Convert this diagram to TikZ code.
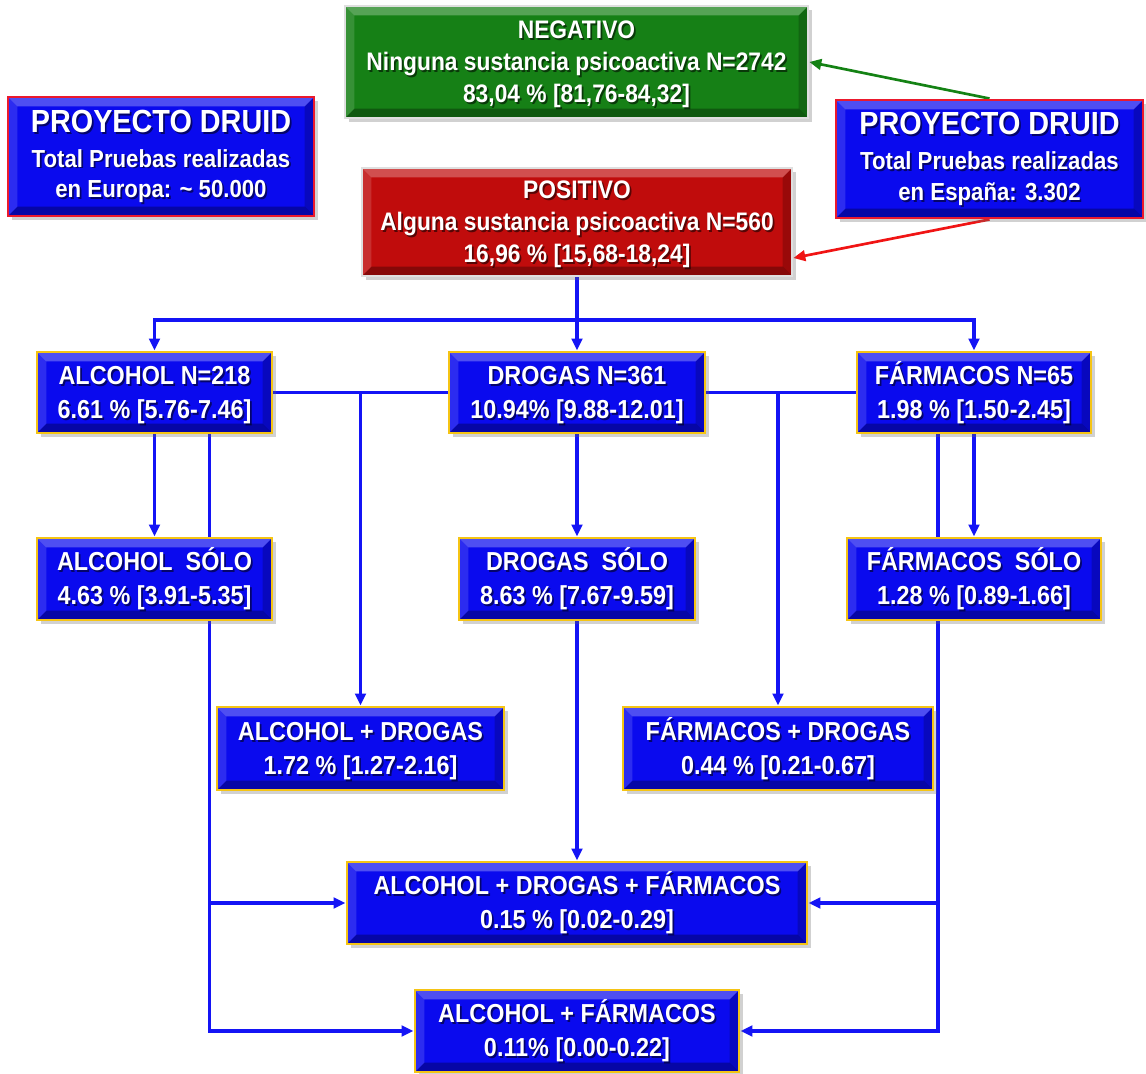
\documentclass[tikz,border=0pt]{standalone}
\usepackage{fontspec}
\setmainfont{Liberation Sans}
\newfontfamily\narrowsans{Liberation Sans}[FakeStretch=0.9]
\usetikzlibrary{arrows.meta,shadows,calc,backgrounds}
\definecolor{bxblue}{RGB}{10,10,238}
\definecolor{bxgold}{RGB}{245,196,20}
\definecolor{bxgreen}{RGB}{22,128,22}
\definecolor{bxred}{RGB}{192,12,12}
\definecolor{druidred}{RGB}{235,25,45}
\definecolor{lnblue}{RGB}{20,20,245}
\definecolor{lngreen}{RGB}{20,130,20}
\definecolor{lnred}{RGB}{240,20,20}
\tikzset{
  bevel/.style={path picture={
    \fill[white,opacity=.28] (path picture bounding box.north west) -- (path picture bounding box.north east)
      -- ([shift={(-7pt,-7pt)}]path picture bounding box.north east) -- ([shift={(7pt,-7pt)}]path picture bounding box.north west) -- cycle;
    \fill[white,opacity=.14] (path picture bounding box.north west) -- (path picture bounding box.south west)
      -- ([shift={(7pt,7pt)}]path picture bounding box.south west) -- ([shift={(7pt,-7pt)}]path picture bounding box.north west) -- cycle;
    \fill[black,opacity=.30] (path picture bounding box.south west) -- (path picture bounding box.south east)
      -- ([shift={(-7pt,7pt)}]path picture bounding box.south east) -- ([shift={(7pt,7pt)}]path picture bounding box.south west) -- cycle;
    \fill[black,opacity=.20] (path picture bounding box.north east) -- (path picture bounding box.south east)
      -- ([shift={(-7pt,7pt)}]path picture bounding box.south east) -- ([shift={(-7pt,-7pt)}]path picture bounding box.north east) -- cycle;
  }},
  baseshape/.style={inner sep=0pt, align=center, bevel, text opacity=0,
    drop shadow={shadow xshift=3pt,shadow yshift=-3pt,opacity=.3,fill=black!60}},
  flowshape/.style={baseshape, draw=bxgold, line width=2.2pt, fill=bxblue},
  druidshape/.style={baseshape, draw=druidred, line width=2.2pt, fill=bxblue},
  resshape/.style={baseshape, draw=gray!25, line width=2pt},
  flowfont/.style={inner sep=0pt, align=center,
    font=\narrowsans\bfseries\fontsize{19.5}{25.5}\selectfont},
  druidfont/.style={inner sep=0pt, align=center,
    font=\narrowsans\bfseries\fontsize{18.5}{23}\selectfont},
  resfont/.style={inner sep=0pt, align=center,
    font=\narrowsans\bfseries\fontsize{19}{24}\selectfont},
  cn/.style={draw=lnblue, line width=2.4pt},
  cna/.style={cn, -{Triangle[length=9pt,width=8pt]}},
}
% name, x1, y1, x2, y2, shape style, font style, text  (pixel coordinates)
\newcommand\placebox[8]{%
  \node[#6, #7, minimum width={(#4-#2)*0.75pt}, minimum height={(#5-#3)*0.75pt}]
    (#1) at ({(#2+#4)/2},{(#3+#5)/2}) {\vphantom{Á}#8};
  \node[#7, text=black, text opacity=.55] (#1-sh) at ([shift={(1.3pt,-1.3pt)}]#1.center) {\vphantom{Á}#8};
  \node[#7, text=white] (#1-tx) at (#1.center) {\vphantom{Á}#8};}
\begin{document}
\begin{tikzpicture}[x=0.75pt,y=-0.75pt]
\useasboundingbox (0,0) rectangle (1146,1074);

% top boxes
\placebox{neg}{345}{6}{808}{118}{resshape, fill=bxgreen}{resfont}
  {NEGATIVO\\Ninguna sustancia psicoactiva N=2742\\83,04 \% [81,76-84,32]}
\placebox{pos}{362}{168}{792}{276}{resshape, fill=bxred}{resfont}
  {POSITIVO\\Alguna sustancia psicoactiva N=560\\16,96 \% [15,68-18,24]}
\placebox{eur}{8}{97}{314}{216}{druidshape}{druidfont}
  {{\fontsize{24}{24}\selectfont PROYECTO DRUID}\\[3pt]Total Pruebas realizadas\\en Europa: \textasciitilde{} 50.000}
\placebox{spain}{836}{100}{1143}{218}{druidshape}{druidfont}
  {{\fontsize{24}{24}\selectfont PROYECTO DRUID}\\[3pt]Total Pruebas realizadas\\en España: 3.302}

% second row
\placebox{alc}{37}{352}{272}{433}{flowshape}{flowfont}{ALCOHOL N=218\\6.61 \% [5.76-7.46]}
\placebox{drog}{449}{352}{705}{433}{flowshape}{flowfont}{DROGAS N=361\\10.94\% [9.88-12.01]}
\placebox{farm}{857}{352}{1091}{433}{flowshape}{flowfont}{FÁRMACOS N=65\\1.98 \% [1.50-2.45]}

% third row
\placebox{alcs}{37}{538}{272}{620}{flowshape}{flowfont}{ALCOHOL\ \ SÓLO\\4.63 \% [3.91-5.35]}
\placebox{drogs}{459}{538}{695}{620}{flowshape}{flowfont}{DROGAS\ \ SÓLO\\8.63 \% [7.67-9.59]}
\placebox{farms}{847}{538}{1101}{620}{flowshape}{flowfont}{FÁRMACOS\ \ SÓLO\\1.28 \% [0.89-1.66]}

% combinations
\placebox{ad}{217}{707}{504}{790}{flowshape}{flowfont}{ALCOHOL + DROGAS\\1.72 \% [1.27-2.16]}
\placebox{fd}{623}{707}{933}{790}{flowshape}{flowfont}{FÁRMACOS + DROGAS\\0.44 \% [0.21-0.67]}
\placebox{adf}{347}{862}{807}{944}{flowshape}{flowfont}{ALCOHOL + DROGAS + FÁRMACOS\\0.15 \% [0.02-0.29]}
\placebox{af}{415}{990}{739}{1072}{flowshape}{flowfont}{ALCOHOL + FÁRMACOS\\0.11\% [0.00-0.22]}

\begin{scope}[on background layer]
  % from the Spain box
  \draw[lngreen, line width=2pt, -{Triangle[length=9pt,width=8pt]}] (spain.north) -- (neg.east);
  \draw[lnred, line width=2pt, -{Triangle[length=9pt,width=8pt]}] (spain.south) -- ([yshift=-27pt]pos.east);
  % distribution bus
  \coordinate (bus) at (577,320);
  \draw[cn] (pos.south) -- (pos.south |- bus);
  \draw[cna] (pos.south |- bus) -| (alc.north);
  \draw[cna] (pos.south |- bus) -| (farm.north);
  \draw[cna] (pos.south |- bus) -- (drog.north);
  % horizontal links
  \draw[cn] (alc.east) -- (drog.west);
  \draw[cn] (drog.east) -- (farm.west);
  \draw[cna] (alc.east -| ad.north) -- (ad.north);
  \draw[cna] (drog.east -| fd.north) -- (fd.north);
  % single-substance arrows
  \draw[cna] (alc.south) -- (alcs.north);
  \draw[cna] (drog.south) -- (drogs.north);
  \draw[cna] (farm.south) -- (farms.north);
  \draw[cna] (drogs.south) -- (adf.north);
  % side rails
  \coordinate (lrail) at ([xshift=41pt]alc.south);
  \coordinate (rrail) at ([xshift=-27pt]farm.south);
  \draw[cna] (lrail) |- (af.west);
  \draw[cna] (lrail |- adf.west) -- (adf.west);
  \draw[cna] (rrail) |- (af.east);
  \draw[cna] (rrail |- adf.east) -- (adf.east);
\end{scope}
\end{tikzpicture}
\end{document}
